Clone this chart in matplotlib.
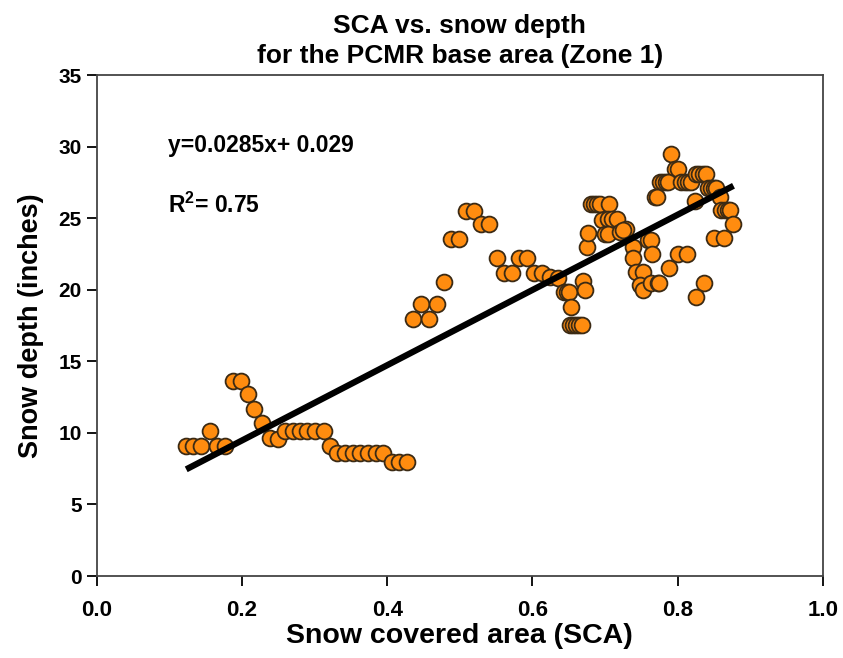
import numpy as np
import matplotlib
matplotlib.use("Agg")
import matplotlib.pyplot as plt

# snow covered area (fraction) and snow depth (inches)
sca = [
    0.123, 0.132, 0.144, 0.156, 0.165, 0.176, 0.187, 0.198, 0.208, 0.217,
    0.228, 0.239, 0.250, 0.259, 0.270, 0.280, 0.290, 0.301, 0.313, 0.321,
    0.331, 0.342, 0.353, 0.363, 0.374, 0.384, 0.394, 0.406, 0.416, 0.427,
    0.436, 0.458, 0.447, 0.468, 0.478, 0.488, 0.499, 0.509, 0.520, 0.529,
    0.540, 0.551, 0.561, 0.572, 0.582, 0.593, 0.602, 0.613, 0.624, 0.635,
    0.643, 0.647, 0.650, 0.653, 0.652, 0.656, 0.660, 0.664, 0.668, 0.670,
    0.672, 0.675, 0.677, 0.681, 0.685, 0.689, 0.693, 0.706, 0.696, 0.704,
    0.710, 0.716, 0.700, 0.704, 0.720, 0.729, 0.725, 0.739, 0.739, 0.742,
    0.752, 0.748, 0.752, 0.759, 0.763, 0.765, 0.764, 0.773, 0.769, 0.791,
    0.796, 0.800, 0.776, 0.780, 0.784, 0.787, 0.805, 0.810, 0.814, 0.819,
    0.826, 0.830, 0.835, 0.839, 0.772, 0.824, 0.842, 0.846, 0.850, 0.853,
    0.858, 0.860, 0.865, 0.869, 0.872, 0.877, 0.850, 0.864, 0.801, 0.813,
    0.788, 0.775, 0.837, 0.825,
]
depth = [
    9.08, 9.08, 9.08, 10.1, 9.08, 9.08, 13.65, 13.65, 12.7, 11.65,
    10.7, 9.67, 9.57, 10.13, 10.13, 10.13, 10.13, 10.13, 10.13, 9.08,
    8.57, 8.57, 8.57, 8.57, 8.57, 8.57, 8.57, 7.99, 7.99, 7.99,
    17.96, 17.96, 18.99, 18.99, 20.57, 23.55, 23.55, 25.53, 25.53, 24.58,
    24.58, 22.2, 21.2, 21.2, 22.2, 22.2, 21.2, 21.2, 20.87, 20.8,
    19.87, 19.87, 19.83, 18.82, 17.54, 17.54, 17.54, 17.54, 17.54, 20.6,
    19.99, 22.97, 23.99, 25.97, 25.97, 25.97, 25.97, 25.97, 24.88, 24.95,
    24.95, 24.95, 23.88, 23.88, 24.06, 24.23, 24.18, 23.0, 22.2, 21.27,
    21.27, 20.3, 20.0, 23.48, 23.48, 22.5, 20.5, 20.5, 26.5, 29.47,
    28.44, 28.44, 27.5, 27.5, 27.5, 27.5, 27.5, 27.5, 27.5, 27.5,
    28.07, 28.07, 28.07, 28.07, 26.46, 26.17, 27.09, 27.09, 27.09, 27.09,
    26.5, 25.58, 25.58, 25.58, 25.58, 24.58, 23.6, 23.6, 22.5, 22.5,
    21.5, 20.5, 20.5, 19.52,
]

x_ticks = [0.0, 0.2, 0.4, 0.6, 0.8, 1.0]
y_ticks = [0, 5, 10, 15, 20, 25, 30, 35]
eq_text = "y=0.0285x+ 0.029"
r2_text = "R$^{\\mathbf{2}}$= 0.75"

plt.rcParams['font.family'] = ['Liberation Sans', 'DejaVu Sans']
plt.rcParams['font.weight'] = 'bold'
plt.rcParams['mathtext.fontset'] = 'custom'
plt.rcParams['mathtext.bf'] = 'Liberation Sans:bold'

fig = plt.figure(figsize=(8.43, 6.58), dpi=100)
ax = fig.add_axes([0.115, 0.1246, 0.861, 0.7614])

x = np.array(sca)
y = np.array(depth)
ax.scatter(x, y, s=130, c='#ff8c0f', edgecolors='#3b2a14', linewidths=1.3, zorder=3)

# linear trend over the data range
k, b = np.polyfit(x, y, 1)
xl = np.array([x.min(), x.max()])
ax.plot(xl, k * xl + b, c='black', lw=4.5, zorder=4, solid_capstyle='butt')

ax.text(0.098, 0.86, eq_text, transform=ax.transAxes, fontsize=16.5, fontweight='bold', va='center')
ax.text(0.098, 0.739, r2_text, transform=ax.transAxes, fontsize=16.5, fontweight='bold', va='center')

ax.set_xlim(0, 1.0)
ax.set_ylim(0, 35)
ax.set_xticks(x_ticks)
ax.set_yticks(y_ticks)
ax.set_xticklabels(['{:.1f}'.format(t) for t in x_ticks])
ax.tick_params(direction='out', length=7, width=1.3, colors='black')
ax.tick_params(axis='x', labelsize=16, pad=10)
ax.tick_params(axis='y', labelsize=15, pad=4)
for s in ax.spines.values():
    s.set_linewidth(1.3)
    s.set_color('#444444')

ax.set_xlabel('Snow covered area (SCA)', fontsize=20.5, fontweight='bold', labelpad=2)
ax.set_ylabel('Snow depth (inches)', fontsize=19.5, fontweight='bold', labelpad=10)
ax.set_title('SCA vs. snow depth\nfor the PCMR base area (Zone 1)', fontsize=19, fontweight='bold', pad=9,
             linespacing=1.3)

fig.savefig('out.png', dpi=100)
